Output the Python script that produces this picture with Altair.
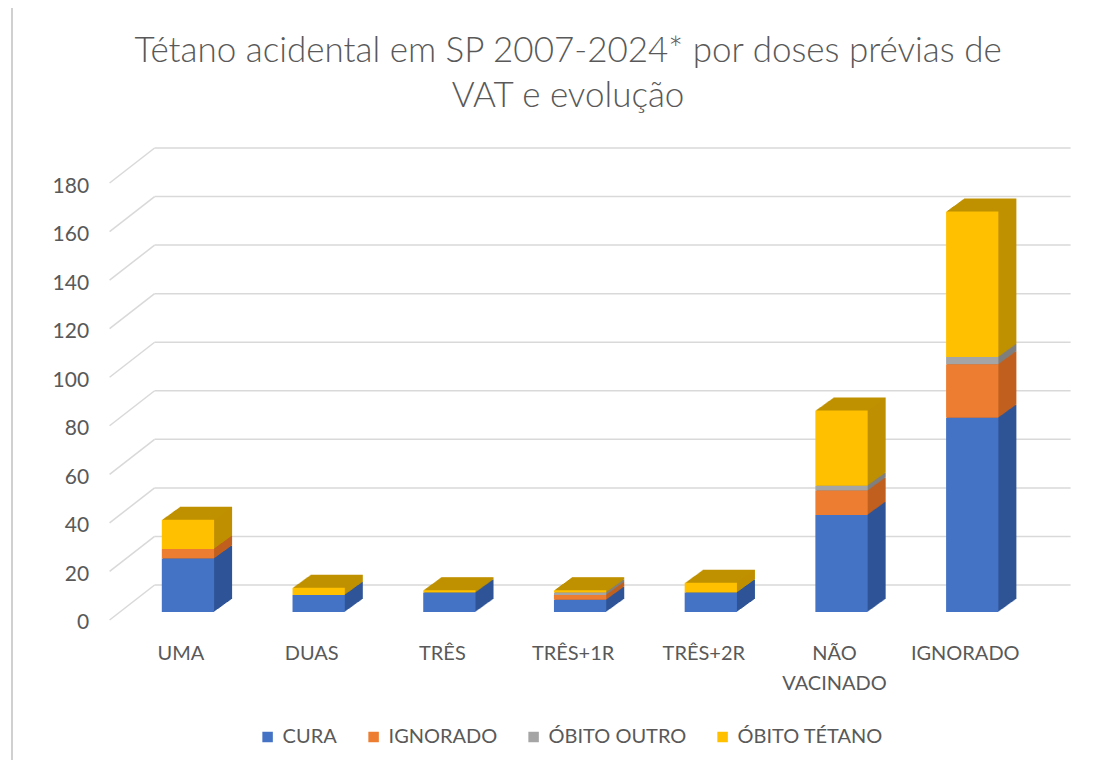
import altair as alt
import pandas as pd

# ---- data ----
categorias = ["UMA", "DUAS", "TRÊS", "TRÊS+1R", "TRÊS+2R", "NÃO VACINADO", "IGNORADO"]
series = ["CURA", "IGNORADO", "ÓBITO OUTRO", "ÓBITO TÉTANO"]
cura = [22, 7, 8, 5, 8, 40, 80]
ignorado = [4, 0, 0, 2, 0, 10, 22]
obito_outro = [0, 0, 0, 1, 0, 2, 3]
obito_tetano = [12, 3, 1, 1, 4, 31, 60]
marcas_y = [0, 20, 40, 60, 80, 100, 120, 140, 160, 180]

titulo = ["Tétano acidental em SP 2007-2024* por doses prévias de", "VAT e evolução"]

# ---- styling ----
FONT = "Lato"
TXT = "#595959"
cores = ["#4472c4", "#ed7d31", "#a5a5a5", "#ffc000"]
cores_escuras = ["#2f5597", "#c0601f", "#7f7f7f", "#bf9000"]
GRID = "#d9d9d9"

rows = []
for ordem, (s, vals) in enumerate(zip(series, [cura, ignorado, obito_outro, obito_tetano])):
    for c, v in zip(categorias, vals):
        rows.append({"categoria": c, "serie": s, "ordem": ordem, "valor": v})
df = pd.DataFrame(rows)
grade = pd.DataFrame({"v": marcas_y})

W, H = 915, 437
x_scale = alt.Scale(domain=categorias, paddingInner=0.6, paddingOuter=0.3)
y_scale = alt.Scale(domain=[0, 180], nice=False, zero=True)

x_axis = alt.Axis(title=None, domain=False, ticks=False, tickSize=0, grid=False,
                  labelAngle=0, labelFontSize=20, labelColor=TXT, labelFont=FONT,
                  labelPadding=24, labelExpr="split(datum.value, ' ')", labelLineHeight=30)
y_axis = alt.Axis(title=None, domain=False, ticks=False, tickSize=0, grid=False,
                  labelFontSize=21, labelColor=TXT, labelFont=FONT, labelPadding=27,
                  labelOffset=3, values=marcas_y)

FX, FY = 7, -8          # front face offset from floor front edge
DX, DY = 18, -13        # depth of the 3D columns
WALL_X0, WALL_X1, WALL_DY = 39, 955, -35

back = alt.Chart(grade).mark_rule(color=GRID, strokeWidth=1.5, yOffset=WALL_DY).encode(
    x=alt.value(WALL_X0), x2=alt.value(WALL_X1),
    y=alt.Y("v:Q", scale=y_scale, axis=y_axis))

side = alt.Chart(grade).mark_rule(color=GRID, strokeWidth=1.5, y2Offset=WALL_DY).encode(
    x=alt.value(-6), x2=alt.value(WALL_X0),
    y=alt.Y("v:Q", scale=y_scale, axis=y_axis), y2="v:Q")

borda = alt.Chart(grade).mark_rule(color="#d0d0d0", strokeWidth=1.5).encode(
    x=alt.value(-103.6), y=alt.value(-175), y2=alt.value(577))

layers = [borda, back, side]
N = 18
for i in range(N, 0, -1):
    ox = FX + DX * i / N
    oy = FY + DY * i / N
    layers.append(
        alt.Chart(df).mark_bar(xOffset=ox, x2Offset=ox, yOffset=oy, y2Offset=oy, strokeWidth=0).encode(
            x=alt.X("categoria:N", scale=x_scale, axis=x_axis, sort=categorias),
            y=alt.Y("valor:Q", stack="zero", scale=y_scale, axis=y_axis),
            color=alt.Color("serie:N", scale=alt.Scale(domain=series, range=cores_escuras), legend=None),
            order=alt.Order("ordem:Q"),
        )
    )

front = alt.Chart(df).mark_bar(xOffset=FX, x2Offset=FX, yOffset=FY, y2Offset=FY, strokeWidth=0).encode(
    x=alt.X("categoria:N", scale=x_scale, axis=x_axis, sort=categorias),
    y=alt.Y("valor:Q", stack="zero", scale=y_scale, axis=y_axis),
    color=alt.Color("serie:N", scale=alt.Scale(domain=series, range=cores),
                    legend=alt.Legend(title=None, orient="none", legendX=142, legendY=544,
                                      direction="horizontal", symbolType="square", symbolSize=110,
                                      symbolStrokeWidth=0, labelFontSize=20, labelFont=FONT,
                                      labelColor=TXT, columnPadding=26, labelOffset=5)),
    order=alt.Order("ordem:Q"),
)
layers.append(front)

chart = alt.layer(*layers).resolve_scale(color="independent").resolve_legend(color="independent").properties(
    width=W, height=H,
    background="white",
    title=alt.Title(text=titulo, fontSize=35, font=FONT, color=TXT, fontWeight=300,
                    lineHeight=45, anchor="middle", offset=0, dy=107, dx=-5),
    padding={"left": 107.6, "top": 175, "right": 70, "bottom": 140},
    autosize=alt.AutoSizeParams(type="none"),
).configure_view(stroke=None)

chart.save("out.html", embed_options={"renderer": "svg", "actions": False})
